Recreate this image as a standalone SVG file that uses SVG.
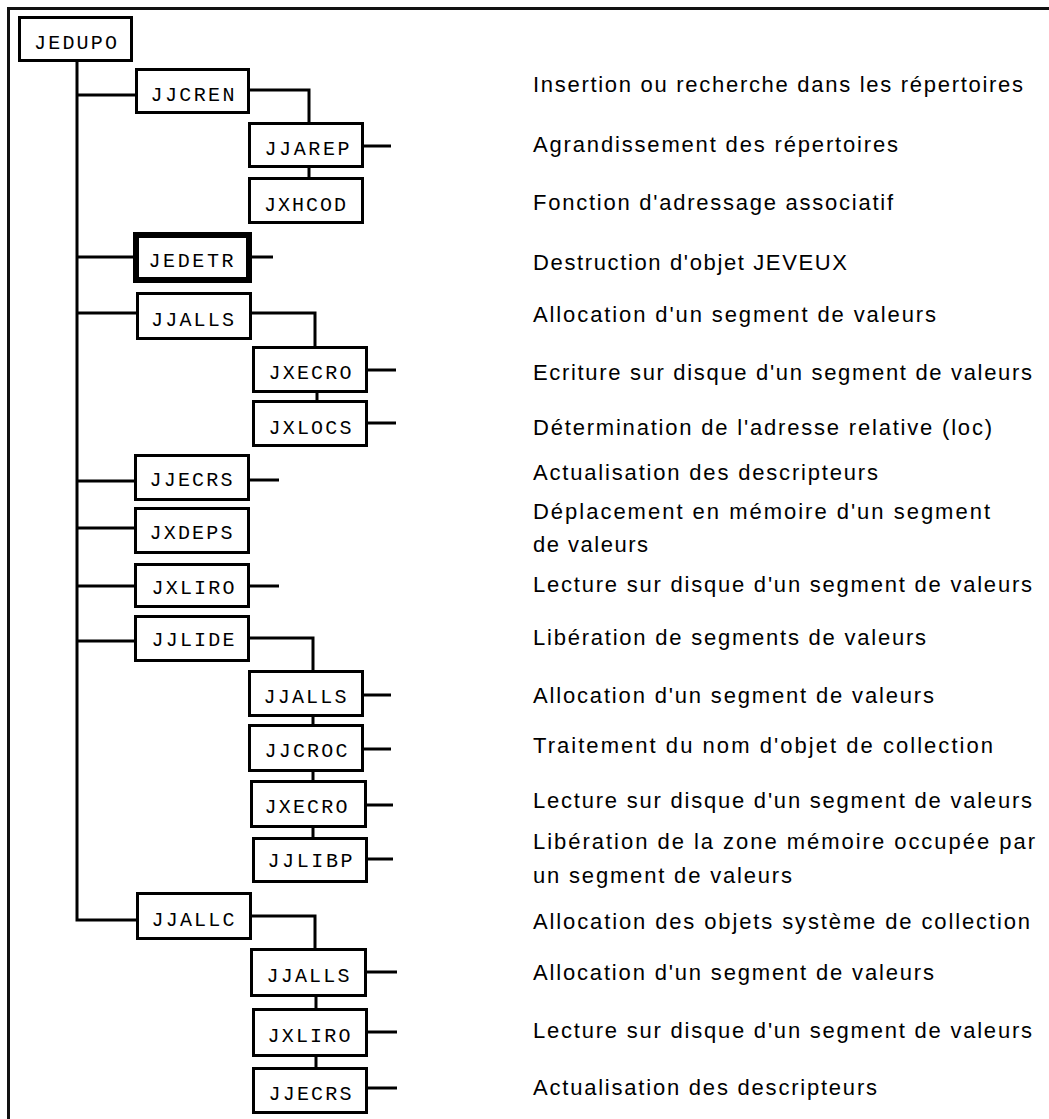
<svg xmlns="http://www.w3.org/2000/svg" width="1049" height="1119" viewBox="0 0 1049 1119">
<style>
.box{fill:#fff;stroke:#000;stroke-width:3}
.thick{stroke-width:6}
.lbl{font-family:"Liberation Mono","DejaVu Sans Mono",monospace;font-size:20px;text-anchor:middle;fill:#000}
.desc{font-family:"Liberation Sans","DejaVu Sans",sans-serif;font-size:22px;fill:#000}
.c{stroke:#000;stroke-width:3;fill:none}
.frame{stroke:#111;stroke-width:3;fill:none}
</style>
<rect x="0" y="0" width="1049" height="1119" fill="#fff"/>
<path class="frame" d="M8.5,1119 V8.5 H1049"/>
<g id="connectors">
<path class="c" d="M77,62 V920 H136"/>
<path class="c" d="M77,95 H135"/>
<path class="c" d="M250,90 H309 V122"/>
<path class="c" d="M309,168 V177"/>
<path class="c" d="M364,146 H391"/>
<path class="c" d="M77,257 H133"/>
<path class="c" d="M252,257 H273"/>
<path class="c" d="M77,313 H136"/>
<path class="c" d="M252,313 H315 V346"/>
<path class="c" d="M317,393 V400"/>
<path class="c" d="M368,370 H396"/>
<path class="c" d="M368,423 H396"/>
<path class="c" d="M77,481 H134"/>
<path class="c" d="M250,480 H279"/>
<path class="c" d="M77,528 H134"/>
<path class="c" d="M77,586 H134"/>
<path class="c" d="M250,586 H279"/>
<path class="c" d="M77,641 H134"/>
<path class="c" d="M250,638 H313 V670"/>
<path class="c" d="M313,717 V724"/>
<path class="c" d="M313,772 V780"/>
<path class="c" d="M313,828 V837"/>
<path class="c" d="M364,695 H391"/>
<path class="c" d="M364,749 H391"/>
<path class="c" d="M367,805 H393"/>
<path class="c" d="M368,859 H393"/>
<path class="c" d="M252,916 H315 V948"/>
<path class="c" d="M316,997 V1008"/>
<path class="c" d="M316,1057 V1067"/>
<path class="c" d="M367,972 H397"/>
<path class="c" d="M368,1032 H397"/>
<path class="c" d="M368,1088 H397"/>
</g>
<g id="n-jedupo"><rect class="box" x="19.5" y="17.5" width="112" height="43"/><text class="lbl" x="75.5" y="48.5" textLength="83" lengthAdjust="spacing">JEDUPO</text></g>
<g id="n-jjcren"><rect class="box" x="136.5" y="69.5" width="112" height="43"/><text class="lbl" x="192.5" y="101" textLength="84" lengthAdjust="spacing">JJCREN</text></g>
<g id="n-jjarep"><rect class="box" x="249.5" y="123.5" width="113" height="43"/><text class="lbl" x="307" y="155" textLength="85" lengthAdjust="spacing">JJAREP</text></g>
<g id="n-jxhcod"><rect class="box" x="249.5" y="178.5" width="113" height="44"/><text class="lbl" x="305" y="210.5" textLength="82" lengthAdjust="spacing">JXHCOD</text></g>
<g id="n-jedetr"><rect class="box thick" x="136" y="235" width="113" height="45"/><text class="lbl" x="191" y="267" textLength="85" lengthAdjust="spacing">JEDETR</text></g>
<g id="n-jjalls1"><rect class="box" x="137.5" y="293.5" width="113" height="45"/><text class="lbl" x="192.5" y="326" textLength="83" lengthAdjust="spacing">JJALLS</text></g>
<g id="n-jxecro1"><rect class="box" x="253.5" y="347.5" width="113" height="44"/><text class="lbl" x="310" y="379" textLength="83" lengthAdjust="spacing">JXECRO</text></g>
<g id="n-jxlocs"><rect class="box" x="253.5" y="401.5" width="113" height="44"/><text class="lbl" x="310" y="434" textLength="83" lengthAdjust="spacing">JXLOCS</text></g>
<g id="n-jjecrs1"><rect class="box" x="135.5" y="455.5" width="113" height="44"/><text class="lbl" x="191" y="486" textLength="83" lengthAdjust="spacing">JJECRS</text></g>
<g id="n-jxdeps"><rect class="box" x="135.5" y="508.5" width="113" height="44"/><text class="lbl" x="191" y="539" textLength="83" lengthAdjust="spacing">JXDEPS</text></g>
<g id="n-jxliro1"><rect class="box" x="135.5" y="564.5" width="113" height="42"/><text class="lbl" x="193" y="594" textLength="83" lengthAdjust="spacing">JXLIRO</text></g>
<g id="n-jjlide"><rect class="box" x="135.5" y="616.5" width="113" height="44"/><text class="lbl" x="193" y="646" textLength="83" lengthAdjust="spacing">JJLIDE</text></g>
<g id="n-jjalls2"><rect class="box" x="249.5" y="671.5" width="113" height="44"/><text class="lbl" x="305" y="703" textLength="83" lengthAdjust="spacing">JJALLS</text></g>
<g id="n-jjcroc"><rect class="box" x="249.5" y="725.5" width="113" height="45"/><text class="lbl" x="306" y="757" textLength="83" lengthAdjust="spacing">JJCROC</text></g>
<g id="n-jxecro2"><rect class="box" x="251.5" y="781.5" width="114" height="45"/><text class="lbl" x="306" y="813" textLength="83" lengthAdjust="spacing">JXECRO</text></g>
<g id="n-jjlibp"><rect class="box" x="253.5" y="838.5" width="113" height="43"/><text class="lbl" x="310" y="867" textLength="85" lengthAdjust="spacing">JJLIBP</text></g>
<g id="n-jjallc"><rect class="box" x="137.5" y="893.5" width="113" height="45"/><text class="lbl" x="193" y="926" textLength="83" lengthAdjust="spacing">JJALLC</text></g>
<g id="n-jjalls3"><rect class="box" x="251.5" y="949.5" width="114" height="46"/><text class="lbl" x="308" y="982" textLength="83" lengthAdjust="spacing">JJALLS</text></g>
<g id="n-jxliro2"><rect class="box" x="253.5" y="1009.5" width="113" height="46"/><text class="lbl" x="309" y="1042" textLength="83" lengthAdjust="spacing">JXLIRO</text></g>
<g id="n-jjecrs2"><rect class="box" x="253.5" y="1068.5" width="113" height="44"/><text class="lbl" x="310" y="1100" textLength="83" lengthAdjust="spacing">JJECRS</text></g>
<g id="descriptions">
<text class="desc" x="533" y="92" textLength="490" lengthAdjust="spacing">Insertion ou recherche dans les répertoires</text>
<text class="desc" x="533" y="152" textLength="365" lengthAdjust="spacing">Agrandissement des répertoires</text>
<text class="desc" x="533" y="210" textLength="360" lengthAdjust="spacing">Fonction d'adressage associatif</text>
<text class="desc" x="533" y="270" textLength="314" lengthAdjust="spacing">Destruction d'objet JEVEUX</text>
<text class="desc" x="533" y="322" textLength="403" lengthAdjust="spacing">Allocation d'un segment de valeurs</text>
<text class="desc" x="533" y="380" textLength="499" lengthAdjust="spacing">Ecriture sur disque d'un segment de valeurs</text>
<text class="desc" x="533" y="435" textLength="459" lengthAdjust="spacing">Détermination de l'adresse relative (loc)</text>
<text class="desc" x="533" y="480" textLength="345" lengthAdjust="spacing">Actualisation des descripteurs</text>
<text class="desc" x="533" y="519" textLength="457" lengthAdjust="spacing">Déplacement en mémoire d'un segment</text>
<text class="desc" x="533" y="552" textLength="115" lengthAdjust="spacing">de valeurs</text>
<text class="desc" x="533" y="592" textLength="499" lengthAdjust="spacing">Lecture sur disque d'un segment de valeurs</text>
<text class="desc" x="533" y="645" textLength="393" lengthAdjust="spacing">Libération de segments de valeurs</text>
<text class="desc" x="533" y="703" textLength="401" lengthAdjust="spacing">Allocation d'un segment de valeurs</text>
<text class="desc" x="533" y="753" textLength="460" lengthAdjust="spacing">Traitement du nom d'objet de collection</text>
<text class="desc" x="533" y="808" textLength="499" lengthAdjust="spacing">Lecture sur disque d'un segment de valeurs</text>
<text class="desc" x="533" y="849" textLength="502" lengthAdjust="spacing">Libération de la zone mémoire occupée par</text>
<text class="desc" x="533" y="883" textLength="259" lengthAdjust="spacing">un segment de valeurs</text>
<text class="desc" x="533" y="929" textLength="497" lengthAdjust="spacing">Allocation des objets système de collection</text>
<text class="desc" x="533" y="980" textLength="401" lengthAdjust="spacing">Allocation d'un segment de valeurs</text>
<text class="desc" x="533" y="1038" textLength="499" lengthAdjust="spacing">Lecture sur disque d'un segment de valeurs</text>
<text class="desc" x="533" y="1095" textLength="344" lengthAdjust="spacing">Actualisation des descripteurs</text>
</g>
</svg>
